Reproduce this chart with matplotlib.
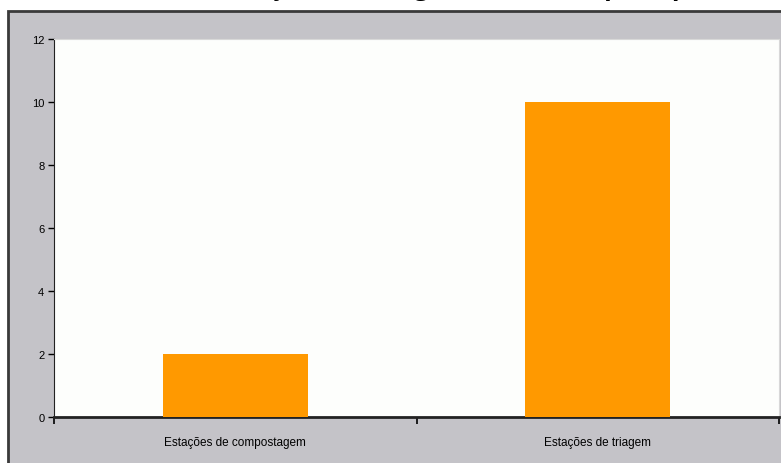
import matplotlib.pyplot as plt
from matplotlib.patches import Rectangle

categories = ["Estações de compostagem", "Estações de triagem"]
values = [2, 10]
y_ticks = [0, 2, 4, 6, 8, 10, 12]
title = "Instalações de triagem (unidades por tipo)"

plt.rcParams["font.family"] = ["Liberation Sans Narrow", "Liberation Sans", "DejaVu Sans"]

W, H = 781, 464
fig = plt.figure(figsize=(W / 100, H / 100), dpi=100)
fig.patch.set_facecolor("white")

# grey chart frame, running off the right and bottom edges
fig.patches.append(Rectangle((8 / W, -0.1), 1.2, 1.1 - 12 / H,
                             transform=fig.transFigure, facecolor="#c4c3c8",
                             edgecolor="#3a3a3a", linewidth=2, zorder=-5))

# title cut off by the top edge, only descenders show
fig.text(448 / W, 1 + 5.3 / H, title, ha="center", va="baseline",
         fontsize=18, fontweight="bold", family=["Open Sans", "DejaVu Sans"])

ax = fig.add_axes([54 / W, (H - 418) / H, (779 - 54) / W, (418 - 40) / H])
ax.set_facecolor("#fdfefc")
x = range(len(categories))
ax.bar(x, values, width=0.4, color="#ff9900", zorder=3)

ax.set_ylim(0, 12)
ax.set_yticks(y_ticks)
ax.set_xlim(-0.5, 1.5)
ax.set_xticks([-0.5, 0.5, 1.5])
ax.set_xticklabels([])
ax.set_xticks(list(x), minor=True)
ax.set_xticklabels(categories, minor=True)
ax.tick_params(axis="x", which="minor", length=0, pad=14, labelsize=8.5)
ax.tick_params(axis="x", which="major", length=5, width=1.2, direction="out")
ax.tick_params(axis="y", length=4, width=1, direction="out", labelsize=8, pad=3)

for s in ("top", "right"):
    ax.spines[s].set_color("#d8d8d8")
ax.spines["left"].set_color("#222222")
ax.spines["bottom"].set_color("#222222")
ax.spines["bottom"].set_linewidth(2)

fig.savefig("out.png", dpi=100)
